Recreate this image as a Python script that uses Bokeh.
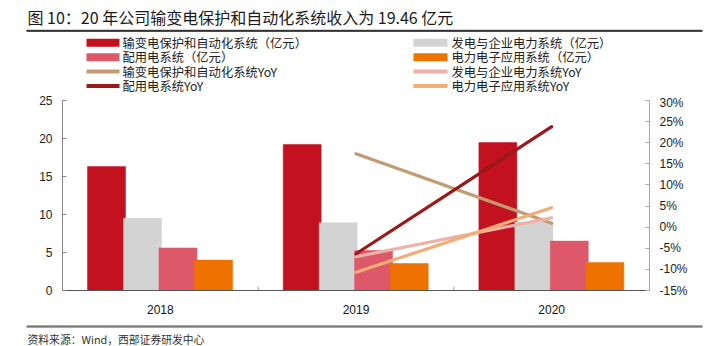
from bokeh.plotting import figure
from bokeh.layouts import column, row
from bokeh.models import (FactorRange, Range1d, LinearAxis, ColumnDataSource,
                          FixedTicker, PrintfTickFormatter, Span)
from bokeh.core.properties import value
from bokeh.transform import dodge
from bokeh.embed import file_html
from bokeh.resources import INLINE

# ---------------- data ----------------
years = ["2018", "2019", "2020"]
rev_transmission = [16.3, 19.2, 19.46]   # 输变电保护和自动化系统（亿元）
rev_generation = [9.5, 8.9, 9.0]         # 发电与企业电力系统（亿元）
rev_distribution = [5.6, 5.25, 6.5]      # 配用电系统（亿元）
rev_power_elec = [4.0, 3.55, 3.7]        # 电力电子应用系统（亿元）

yoy_years = ["2019", "2020"]
yoy_transmission = [17.4, 0.9]
yoy_generation = [-7.0, 2.2]
yoy_distribution = [-6.3, 23.8]
yoy_power_elec = [-10.7, 4.6]

left_ticks = [0, 5, 10, 15, 20, 25]
right_ticks = [-15, -10, -5, 0, 5, 10, 15, 20, 25, 30]
boundaries = ["2018", "2019"]

title_text = "图 10：20 年公司输变电保护和自动化系统收入为 19.46 亿元"
source_text = "资料来源：Wind，西部证券研发中心"

bar_names = ["输变电保护和自动化系统（亿元）", "发电与企业电力系统（亿元）",
             "配用电系统（亿元）", "电力电子应用系统（亿元）"]
line_names = ["输变电保护和自动化系统YoY", "发电与企业电力系统YoY",
              "配用电系统YoY", "电力电子应用系统YoY"]

# ---------------- style ----------------
C_RED = "#C3111F"
C_GRAY = "#D3D3D3"
C_PINK = "#DD5868"
C_ORANGE = "#EE7200"
C_BROWN = "#C39B73"
C_LPINK = "#EDB1A8"
C_DARKRED = "#9A1A1C"
C_LORANGE = "#F3AD76"
CJK = "Noto Sans CJK SC"
NUM = "Liberation Sans"

W = 708
RULE_L, RULE_R = 26, 702
TITLE_H = 32
LEG_TOP, LEG_H = 32, 63
FL, FR = 62, 649
MAIN_TOP, MAIN_BOTTOM, FRAME_H = 5, 28, 190
MAIN_Y0 = LEG_TOP + LEG_H         # 95
FOOT_Y0 = MAIN_Y0 + MAIN_TOP + FRAME_H + MAIN_BOTTOM   # 318
FOOT_H = 346 - FOOT_Y0            # 28


def strip(h):
    f = figure(width=W, height=h, x_range=Range1d(RULE_L, RULE_R),
               y_range=Range1d(0, h),
               output_backend="svg", toolbar_location=None,
               x_axis_location=None, y_axis_location=None,
               min_border=0, min_border_left=RULE_L, min_border_right=W - RULE_R,
               min_border_top=0, min_border_bottom=0)
    f.outline_line_color = None
    f.xgrid.visible = False
    f.ygrid.visible = False
    f.background_fill_color = "white"
    f.border_fill_color = "white"
    return f


def rule(fig, y_top, y_bottom, color):
    mid = (RULE_L + RULE_R) / 2
    fig.quad(left=[RULE_L, mid], right=[mid, RULE_R], top=[y_top, y_top],
             bottom=[y_bottom, y_bottom], fill_color=color, line_color=color,
             line_width=0.5)
    fig.add_layout(Span(location=(y_top + y_bottom) / 2, dimension="width",
                        line_color=color, line_width=1.5, level="overlay"))


# ---------------- title strip ----------------
tfig = strip(TITLE_H)
TY = lambda cy: TITLE_H - cy
tfig.text(x=[27], y=[TY(16)], text=[title_text], text_font=value(CJK),
          text_font_size="16px", text_color="#1a1a1a", text_baseline="middle")
rule(tfig, TY(29.6), TY(31.0), "#333333")

# ---------------- legend strip ----------------
lfig = strip(LEG_H)
LY = lambda cy: LEG_H - (cy - LEG_TOP)
rows = [42.3, 56.7, 71.0, 85.6]
leg_left = [(bar_names[0], C_RED, "bar"), (bar_names[2], C_PINK, "bar"),
            (line_names[0], C_BROWN, "line"), (line_names[2], C_DARKRED, "line")]
leg_right = [(bar_names[1], C_GRAY, "bar"), (bar_names[3], C_ORANGE, "bar"),
             (line_names[1], C_LPINK, "line"), (line_names[3], C_LORANGE, "line")]
for (x0, x1, tx), items in [((86, 119, 122), leg_left), ((413, 447, 451), leg_right)]:
    for cy, (name, colr, kind) in zip(rows, items):
        hh = 4 if kind == "bar" else 2
        lfig.quad(left=[x0], right=[x1], top=[LY(cy - hh)], bottom=[LY(cy + hh)],
                  fill_color=colr, line_color=None)
        lfig.text(x=[tx], y=[LY(cy)], text=[name], text_font=value(CJK),
                  text_font_size="12.3px", text_color="#222222", text_baseline="middle")

# ---------------- main chart ----------------
p = figure(x_range=FactorRange(*years), y_range=Range1d(0, 25),
           width=W, height=MAIN_TOP + FRAME_H + MAIN_BOTTOM,
           output_backend="svg", toolbar_location=None,
           min_border_left=FL, min_border_right=W - FR,
           min_border_top=MAIN_TOP, min_border_bottom=MAIN_BOTTOM)
p.extra_y_ranges = {"yoy": Range1d(-15, 30)}
p.outline_line_color = None
p.xgrid.visible = False
p.ygrid.visible = False
p.background_fill_color = "white"
p.border_fill_color = "white"

p.yaxis.ticker = FixedTicker(ticks=left_ticks)
p.yaxis.axis_line_color = "#888888"
p.yaxis.major_tick_line_color = "#888888"
p.yaxis.major_tick_in = 4
p.yaxis.major_tick_out = 0
p.yaxis.minor_tick_line_color = None
p.yaxis.major_label_standoff = 10
p.yaxis.major_label_text_font = NUM
p.yaxis.major_label_text_font_size = "12px"
p.yaxis.major_label_text_color = "#222222"

ry = LinearAxis(y_range_name="yoy", ticker=FixedTicker(ticks=right_ticks),
                formatter=PrintfTickFormatter(format="%d%%"))
ry.axis_line_color = "#AAAAAA"
ry.major_tick_line_color = "#AAAAAA"
ry.major_tick_in = 4
ry.major_tick_out = 0
ry.minor_tick_line_color = None
ry.major_label_standoff = 10
ry.major_label_text_font = NUM
ry.major_label_text_font_size = "12px"
ry.major_label_text_color = "#222222"
p.add_layout(ry, "right")

p.xaxis.axis_line_color = "#555555"
p.xaxis.major_tick_line_color = None
p.xaxis.major_label_standoff = 8
p.xaxis.major_label_text_font = NUM
p.xaxis.major_label_text_font_size = "12px"
p.xaxis.major_label_text_color = "#111111"

src = ColumnDataSource(dict(year=years, a=rev_transmission, b=rev_generation,
                            c=rev_distribution, d=rev_power_elec))
bw = 0.194
for col, off, colr in [("a", -0.275, C_RED), ("b", -0.091, C_GRAY),
                       ("c", 0.090, C_PINK), ("d", 0.272, C_ORANGE)]:
    p.vbar(x=dodge("year", off, range=p.x_range), top=col, width=bw, bottom=0,
           source=src, fill_color=colr, line_color=colr, line_alpha=0.5)

bsrc = ColumnDataSource(dict(c=boundaries))
p.segment(x0=dodge("c", 0.5, range=p.x_range), x1=dodge("c", 0.5, range=p.x_range),
          y0=0, y1=0.5, source=bsrc, line_color="#999999", line_width=1)

lsrc = ColumnDataSource(dict(year=yoy_years, a=yoy_transmission, b=yoy_generation,
                             c=yoy_power_elec, d=yoy_distribution))
for col, colr in [("a", C_BROWN), ("b", C_LPINK), ("c", C_LORANGE), ("d", C_DARKRED)]:
    p.line(x="year", y=col, source=lsrc, y_range_name="yoy",
           line_color=colr, line_width=3.2, line_cap="round")

# ---------------- footer strip ----------------
foot = strip(FOOT_H)
FY = lambda cy: FOOT_H - (cy - FOOT_Y0)
rule(foot, FY(325.3), FY(326.8), "#777777")
foot.text(x=[27], y=[FY(338.8)], text=[source_text], text_font=value(CJK),
          text_font_size="10.8px", text_color="#333333", text_baseline="middle")

layout = column(tfig, lfig, row(p), foot, spacing=0)
open("out.html", "w").write(file_html(layout, INLINE))
